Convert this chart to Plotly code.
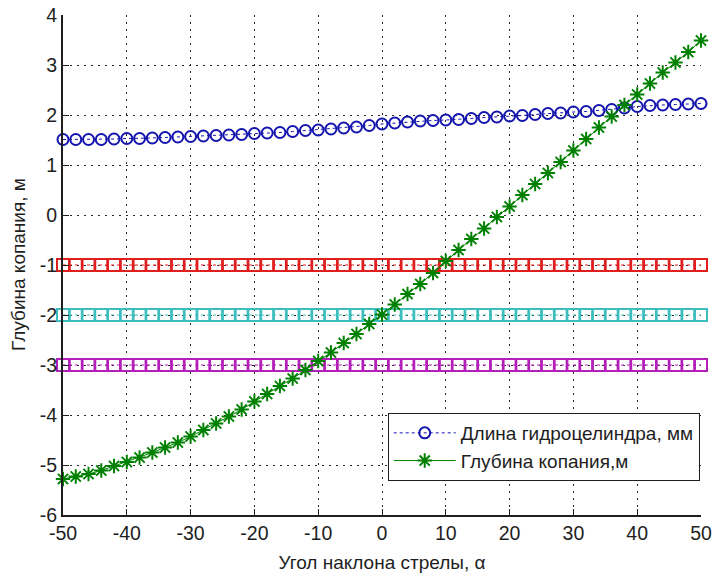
import plotly.graph_objects as go

# ---- data ----
angle = [-50, -48, -46, -44, -42, -40, -38, -36, -34, -32, -30, -28, -26, -24, -22, -20,
         -18, -16, -14, -12, -10, -8, -6, -4, -2, 0, 2, 4, 6, 8, 10, 12, 14, 16, 18, 20,
         22, 24, 26, 28, 30, 32, 34, 36, 38, 40, 42, 44, 46, 48, 50]

cyl_length = [1.51, 1.51, 1.51, 1.51, 1.52, 1.53, 1.53, 1.54, 1.55, 1.56, 1.57, 1.58, 1.59,
              1.60, 1.61, 1.63, 1.64, 1.65, 1.67, 1.69, 1.70, 1.72, 1.74, 1.76, 1.79, 1.82,
              1.84, 1.86, 1.88, 1.89, 1.90, 1.91, 1.93, 1.95, 1.96, 1.98, 1.99, 2.01, 2.03,
              2.04, 2.06, 2.07, 2.09, 2.11, 2.14, 2.17, 2.19, 2.20, 2.21, 2.22, 2.23]

dig_depth = [-5.28, -5.23, -5.18, -5.11, -5.02, -4.94, -4.85, -4.75, -4.65, -4.55, -4.43,
             -4.30, -4.17, -4.03, -3.89, -3.73, -3.58, -3.42, -3.27, -3.10, -2.92, -2.75,
             -2.56, -2.38, -2.18, -1.99, -1.79, -1.58, -1.38, -1.16, -0.92, -0.70, -0.48,
             -0.27, -0.04, 0.17, 0.40, 0.62, 0.84, 1.06, 1.29, 1.52, 1.75, 1.97, 2.20, 2.41,
             2.63, 2.85, 3.05, 3.26, 3.49]

level_values = [-1, -2, -3]
level_colors = ["rgb(225,30,30)", "rgb(60,190,190)", "rgb(180,30,185)"]

x_ticks = [-50, -40, -30, -20, -10, 0, 10, 20, 30, 40, 50]
x_ticklabels = ["-50", "-40", "-30", "-20", "-10", "0", "10", "20", "30", "40", "50"]
y_ticks = [-6, -5, -4, -3, -2, -1, 0, 1, 2, 3, 4]
y_ticklabels = ["-6", "-5", "-4", "-3", "-2", "-1", "0", "1", "2", "3", "4"]

name_cyl = "Длина гидроцелиндра, мм"
name_dig = "Глубина копания,м"
x_title = "Угол наклона стрелы, α"
y_title = "Глубина копания, м"

FONT = "Liberation Sans, Arial, sans-serif"
INK = "rgb(30,30,30)"

fig = go.Figure()

for lv, col in zip(level_values, level_colors):
    fig.add_trace(go.Scatter(
        x=angle, y=[lv] * len(angle), mode="lines+markers",
        line=dict(color=col, width=1, dash="dot"),
        marker=dict(symbol="square-open", size=12, color=col, line=dict(width=2, color=col)),
        showlegend=False, hoverinfo="skip", cliponaxis=False))

fig.add_trace(go.Scatter(
    x=angle, y=cyl_length, mode="lines+markers", name=name_cyl,
    line=dict(color="rgb(20,20,175)", width=1, dash="dot"),
    marker=dict(symbol="circle-open", size=11, color="rgb(20,20,175)",
                line=dict(width=2, color="rgb(20,20,175)")),
    cliponaxis=False))

fig.add_trace(go.Scatter(
    x=angle, y=dig_depth, mode="lines+markers", name=name_dig,
    line=dict(color="rgb(0,128,0)", width=1),
    marker=dict(symbol="asterisk-open", size=12, color="rgb(0,128,0)",
                line=dict(width=2, color="rgb(0,128,0)")),
    cliponaxis=False))

axis_common = dict(
    showgrid=True, gridcolor="rgb(40,40,40)", griddash="2px,5px", gridwidth=1,
    zeroline=False, showline=True, linecolor=INK, linewidth=2,
    ticks="inside", ticklen=6, tickcolor=INK, tickwidth=1,
    tickfont=dict(family=FONT, size=19.5, color=INK),
    ticklabeloverflow="allow", automargin=False,
    mirror=False,
)

ML, MR, MT, MB = 63, 12, 15, 59
PW = 713 - ML - MR

fig.update_layout(
    width=713, height=574,
    margin=dict(l=ML, r=MR, t=MT, b=MB),
    paper_bgcolor="white", plot_bgcolor="white",
    font=dict(family=FONT, color=INK),
    xaxis=dict(range=[-50, 50], tickvals=x_ticks, ticktext=x_ticklabels,
               title=dict(text=x_title, font=dict(family=FONT, size=19), standoff=12),
               **axis_common),
    yaxis=dict(range=[-6, 4], tickvals=y_ticks, ticktext=y_ticklabels,
               **axis_common),
    legend=dict(x=0.998, y=0.204, xanchor="right", yanchor="top",
                bgcolor="white", bordercolor=INK, borderwidth=1,
                font=dict(family=FONT, size=19, color=INK),
                itemwidth=62, tracegroupgap=0),
    showlegend=True,
    annotations=[dict(text=y_title, textangle=-90, showarrow=False,
                      xref="paper", yref="paper", x=(18 - ML) / PW, y=0.5,
                      xanchor="center", yanchor="middle",
                      font=dict(family=FONT, size=19, color=INK))],
)

fig.write_html("out.html",
               config={"displayModeBar": False},
               post_script="document.body.style.margin='0';document.body.style.padding='0';")
